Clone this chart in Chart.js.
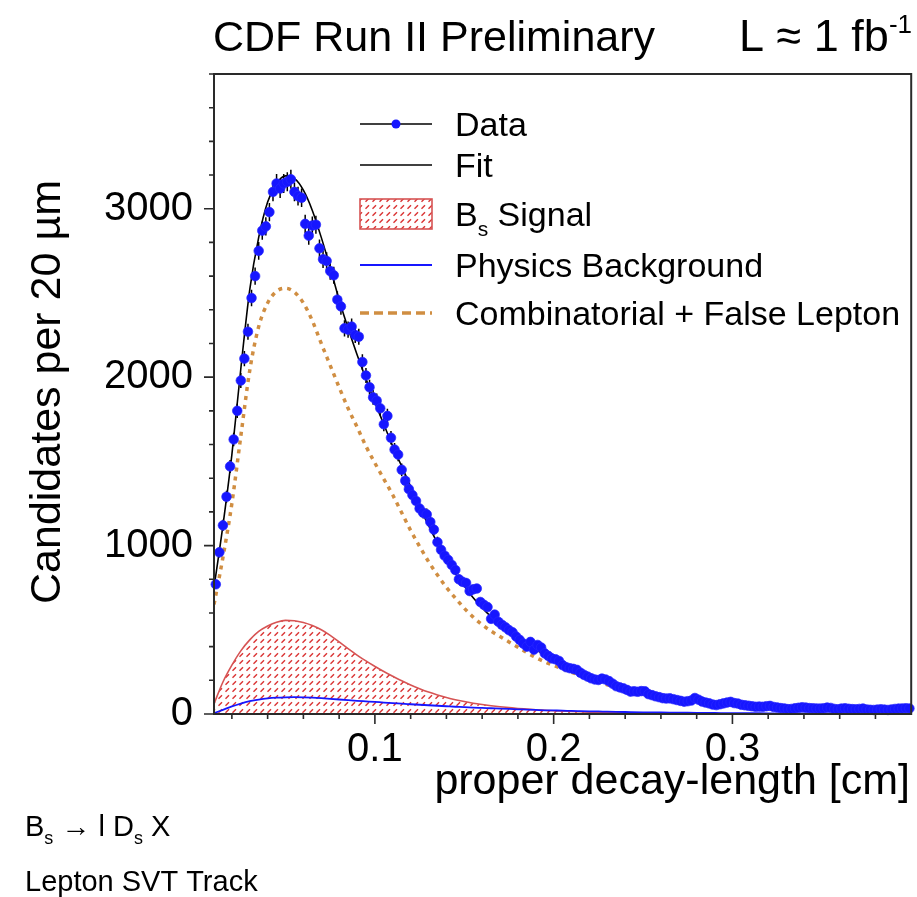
<!DOCTYPE html>
<html>
<head>
<meta charset="utf-8">
<title>CDF Run II Preliminary</title>
<script src="https://cdn.jsdelivr.net/npm/chart.js@4.4.1/dist/chart.umd.min.js"></script>
<style>
  html, body { margin: 0; padding: 0; background: #fff; }
  #wrap { width: 917px; height: 897px; }
</style>
</head>
<body>
<div id="wrap"><canvas id="chart" width="917" height="897"></canvas></div>
<script>
// histogram: 20 um bins starting at 0.01 cm
const binStart = 0.01;
const binWidth = 0.002;
const dataCounts = [
  770, 960, 1120, 1290, 1470, 1630, 1800, 1980, 2110, 2270,
  2470, 2600, 2750, 2870, 2895, 2980, 3100, 3150, 3120, 3150,
  3160, 3175, 3100, 3075, 3065, 2910, 2840, 2900, 2905, 2765,
  2700, 2690, 2630, 2605, 2460, 2420, 2290, 2282, 2300, 2250,
  2240, 2090, 2010, 1940, 1880, 1860, 1815, 1720, 1770, 1640,
  1570, 1540, 1450, 1385, 1335, 1300, 1265, 1220, 1195, 1185,
  1140, 1095, 1020, 975, 940, 915, 885, 855, 800, 785,
  778, 730, 740, 745, 665, 648, 635, 565, 590, 548,
  530, 515, 498, 485, 460, 440, 418, 400, 428, 382,
  410, 395, 360, 345, 330, 325, 315, 290, 278, 272,
  268, 262, 245, 232, 222, 212, 205, 202, 210, 205,
  195, 180, 165, 158, 152, 143, 133, 135, 132, 136,
  135, 118, 112, 105, 100, 94, 92, 93, 88, 83,
  78, 73, 76, 80, 95, 85, 74, 68, 63, 56,
  53, 58, 63, 68, 72, 65, 62, 55, 52, 49,
  46, 43, 44, 43, 46, 48, 42, 39, 35, 33,
  29, 30, 34, 37, 40, 38, 35, 34, 33, 32,
  34, 38, 36, 30, 28, 32, 34, 31, 29, 28,
  30, 32, 27, 25, 24, 26, 28, 26, 24, 27,
  30, 32, 33, 34, 33
];

// fit components sampled along x
const curveX = [
  0.010, 0.015, 0.020, 0.025, 0.030, 0.035, 0.040, 0.045, 0.050, 0.055,
  0.060, 0.065, 0.070, 0.075, 0.080, 0.085, 0.090, 0.095, 0.100, 0.105,
  0.110, 0.115, 0.120, 0.125, 0.130, 0.135, 0.140, 0.145, 0.150, 0.155,
  0.160, 0.165, 0.170, 0.175, 0.180, 0.185, 0.190, 0.195, 0.200, 0.205,
  0.210, 0.215, 0.220, 0.225, 0.230, 0.240, 0.250, 0.260, 0.270, 0.280,
  0.290, 0.300, 0.310, 0.320, 0.330, 0.340, 0.350, 0.360, 0.370, 0.380,
  0.390, 0.400
];
const fitY = [
  750, 1120, 1540, 2050, 2520, 2830, 3040, 3150, 3195, 3180,
  3110, 2990, 2830, 2650, 2460, 2290, 2135, 1990, 1850, 1720,
  1590, 1470, 1350, 1230, 1120, 1015, 920, 835, 760, 690,
  630, 578, 535, 495, 458, 420, 382, 352, 325, 300,
  276, 252, 230, 210, 192, 160, 135, 113, 97, 84,
  74, 66, 59, 53, 48, 44, 41, 38, 36, 34,
  32, 31
];
const signalY = [
  60, 190, 290, 375, 440, 490, 522, 545, 556, 554,
  543, 525, 500, 467, 428, 388, 350, 315, 283, 252,
  224, 197, 172, 150, 130, 113, 98, 85, 74, 64,
  56, 49, 43, 38, 33, 29, 25, 22, 19, 17,
  15, 13, 11, 10, 8, 6, 5, 4, 3, 2,
  2, 1, 1, 1, 1, 0, 0, 0, 0, 0,
  0, 0
];
const physBkgY = [
  5, 25, 45, 62, 76, 86, 93, 97, 99, 100,
  99, 97, 94, 90, 86, 82, 78, 75, 72, 68,
  65, 61, 58, 55, 52, 49, 46, 43, 41, 38,
  36, 34, 32, 30, 28, 26, 24, 22, 21, 20,
  18, 17, 16, 15, 14, 12, 10, 9, 8, 7,
  6, 5, 5, 4, 4, 3, 3, 2, 2, 2,
  1, 1
];
const combY = [
  650, 930, 1250, 1650, 2040, 2300, 2440, 2510, 2528, 2505,
  2440, 2335, 2200, 2070, 1940, 1815, 1705, 1590, 1490, 1395,
  1300, 1195, 1090, 995, 905, 825, 752, 688, 628, 575,
  530, 492, 460, 428, 397, 365, 335, 310, 288, 268,
  248, 228, 208, 190, 174, 148, 126, 106, 91, 79,
  70, 62, 56, 51, 46, 43, 40, 37, 35, 33,
  31, 30
];

const xTicks = [0.02, 0.04, 0.06, 0.08, 0.1, 0.12, 0.14, 0.16, 0.18, 0.2,
                0.22, 0.24, 0.26, 0.28, 0.3, 0.32, 0.34, 0.36, 0.38];
const xLabelled = [0.1, 0.2, 0.3];
const yTicks = [0, 200, 400, 600, 800, 1000, 1200, 1400, 1600, 1800, 2000,
                2200, 2400, 2600, 2800, 3000, 3200, 3400, 3600, 3800];
const yLabelled = [0, 1000, 2000, 3000];

const FONT = '"Liberation Sans", Arial, Helvetica, sans-serif';
const RED = 'rgb(214, 84, 84)';
const BLUE = 'rgb(22, 22, 255)';
const ORANGE = 'rgb(208, 142, 66)';

const canvas = document.getElementById('chart');
const ctx = canvas.getContext('2d');

function makeHatch() {
  const c = document.createElement('canvas');
  c.width = 7; c.height = 7;
  const g = c.getContext('2d');
  g.strokeStyle = 'rgb(218, 52, 52)';
  g.lineWidth = 1.5;
  g.beginPath();
  g.moveTo(1.5, 5.8);
  g.lineTo(5, 2.3);
  g.stroke();
  return ctx.createPattern(c, 'repeat');
}
const hatch = makeHatch();

const isLabelled = (list, v) => list.some(t => Math.abs(t - v) < 1e-9);

const toPoints = (xs, ys) => xs.map((x, i) => ({ x: x, y: ys[i] }));
const dataPoints = dataCounts.map((n, i) => ({ x: binStart + binWidth * (i + 0.5), y: n }));

// error bars under the data markers
const errorBars = {
  id: 'errorBars',
  beforeDatasetDraw(chart, args) {
    if (args.index !== 0) return;
    const c = chart.ctx, xs = chart.scales.x, ys = chart.scales.y;
    c.save();
    c.strokeStyle = '#000';
    c.lineWidth = 1.5;
    c.beginPath();
    dataPoints.forEach(p => {
      const e = Math.sqrt(p.y);
      const px = xs.getPixelForValue(p.x);
      c.moveTo(px, ys.getPixelForValue(p.y - e));
      c.lineTo(px, ys.getPixelForValue(p.y + e));
    });
    c.stroke();
    c.restore();
  }
};

function subText(c, parts, x, y, size) {
  // parts: [text, isSub]
  let cx = x;
  parts.forEach(([t, sub]) => {
    c.font = (sub ? Math.round(size * 0.62) : size) + 'px ' + FONT;
    c.fillText(t, cx, sub ? y + size * 0.28 : y);
    cx += c.measureText(t).width;
  });
}

const decor = {
  id: 'decor',
  afterDraw(chart) {
    const c = chart.ctx;
    const a = chart.chartArea;
    const xs = chart.scales.x, ys = chart.scales.y;
    c.save();

    // frame
    c.strokeStyle = '#2a2a2a';
    c.lineWidth = 2;
    c.strokeRect(a.left, a.top, a.right - a.left, a.bottom - a.top);

    // tick marks, outside
    c.lineWidth = 1.6;
    c.beginPath();
    xTicks.forEach(v => {
      const px = xs.getPixelForValue(v);
      const len = isLabelled(xLabelled, v) ? 10 : 5;
      c.moveTo(px, a.bottom);
      c.lineTo(px, a.bottom + len);
    });
    yTicks.forEach(v => {
      const py = ys.getPixelForValue(v);
      const len = isLabelled(yLabelled, v) ? 10 : 5;
      c.moveTo(a.left, py);
      c.lineTo(a.left - len, py);
    });
    c.stroke();

    c.fillStyle = '#000';
    c.textBaseline = 'alphabetic';

    // header
    c.textAlign = 'left';
    c.font = '43px ' + FONT;
    c.fillText('CDF Run II Preliminary', 213, 51);
    c.font = '26px ' + FONT;
    const supW = c.measureText('-1').width;
    c.textAlign = 'right';
    c.fillText('-1', 912, 33);
    c.font = '45px ' + FONT;
    c.fillText('L \u2248 1 fb', 912 - supW, 51);

    // axis titles
    c.textAlign = 'right';
    c.font = '43px ' + FONT;
    c.fillText('proper decay-length [cm]', 910, 794);
    c.save();
    c.translate(60, 392);
    c.rotate(-Math.PI / 2);
    c.textAlign = 'center';
    c.fillText('Candidates per 20 \u00b5m', 0, 0);
    c.restore();

    // channel notes
    c.textAlign = 'left';
    subText(c, [['B', false], ['s', true], [' \u2192 l D', false], ['s', true], [' X', false]], 25, 836, 29);
    c.font = '29px ' + FONT;
    c.fillText('Lepton SVT Track', 25, 891);

    // legend
    const lx0 = 360, lx1 = 432, tx = 455, fs = 34;
    const rowY = [124, 165, 214, 265, 313];
    const textY = y => y + 12;
    c.lineWidth = 1.6;
    c.strokeStyle = '#000';
    c.beginPath(); c.moveTo(lx0, rowY[0]); c.lineTo(lx1, rowY[0]); c.stroke();
    c.fillStyle = BLUE;
    c.beginPath(); c.arc(396, rowY[0], 4.5, 0, Math.PI * 2); c.fill();
    c.beginPath(); c.moveTo(lx0, rowY[1]); c.lineTo(lx1, rowY[1]); c.stroke();

    c.fillStyle = hatch;
    c.fillRect(lx0, rowY[2] - 15, lx1 - lx0, 30);
    c.strokeStyle = RED;
    c.lineWidth = 1.6;
    c.strokeRect(lx0, rowY[2] - 15, lx1 - lx0, 30);

    c.strokeStyle = BLUE;
    c.lineWidth = 1.8;
    c.beginPath(); c.moveTo(lx0, rowY[3]); c.lineTo(lx1, rowY[3]); c.stroke();

    c.strokeStyle = ORANGE;
    c.lineWidth = 3.5;
    c.setLineDash([9, 5]);
    c.beginPath(); c.moveTo(lx0, rowY[4]); c.lineTo(lx1, rowY[4]); c.stroke();
    c.setLineDash([]);

    c.fillStyle = '#000';
    c.font = fs + 'px ' + FONT;
    c.fillText('Data', tx, textY(rowY[0]));
    c.fillText('Fit', tx, textY(rowY[1]));
    subText(c, [['B', false], ['s', true], [' Signal', false]], tx, textY(rowY[2]), fs);
    c.font = fs + 'px ' + FONT;
    c.fillText('Physics Background', tx, textY(rowY[3]));
    c.fillText('Combinatorial + False Lepton', tx, textY(rowY[4]));

    c.restore();
  }
};

new Chart(ctx, {
  type: 'line',
  data: {
    datasets: [
      {
        label: 'Data',
        data: dataPoints,
        showLine: false,
        pointRadius: 4.8,
        pointBackgroundColor: BLUE,
        pointBorderColor: 'rgba(40, 40, 255, 0.7)',
        pointBorderWidth: 1,
        clip: 8
      },
      {
        label: 'Fit',
        data: toPoints(curveX, fitY),
        borderColor: '#000',
        borderWidth: 1.6,
        pointRadius: 0,
        cubicInterpolationMode: 'monotone'
      },
      {
        label: 'Physics Background',
        data: toPoints(curveX, physBkgY),
        borderColor: BLUE,
        borderWidth: 1.8,
        pointRadius: 0,
        cubicInterpolationMode: 'monotone'
      },
      {
        label: 'Combinatorial + False Lepton',
        data: toPoints(curveX, combY),
        borderColor: ORANGE,
        borderWidth: 3.5,
        borderDash: [4, 5],
        pointRadius: 0,
        cubicInterpolationMode: 'monotone'
      },
      {
        label: 'Bs Signal',
        data: toPoints(curveX, signalY),
        borderColor: RED,
        borderWidth: 1.6,
        backgroundColor: hatch,
        fill: 'origin',
        pointRadius: 0,
        cubicInterpolationMode: 'monotone'
      }
    ]
  },
  options: {
    responsive: false,
    animation: false,
    devicePixelRatio: 1,
    layout: { padding: { top: 74, right: 4, bottom: 103, left: 0 } },
    plugins: {
      legend: { display: false },
      tooltip: { enabled: false }
    },
    scales: {
      x: {
        type: 'linear',
        min: 0.01,
        max: 0.4,
        grid: { display: false, drawTicks: false },
        border: { display: false },
        afterBuildTicks: s => { s.ticks = xTicks.map(v => ({ value: v })); },
        afterFit: s => { s.height = 80; },
        ticks: {
          autoSkip: false,
          maxRotation: 0,
          padding: 12,
          color: '#000',
          font: { family: FONT, size: 40 },
          callback: v => isLabelled(xLabelled, v) ? v.toFixed(1) : ''
        }
      },
      y: {
        type: 'linear',
        min: 0,
        max: 3800,
        grid: { display: false, drawTicks: false },
        border: { display: false },
        afterBuildTicks: s => { s.ticks = yTicks.map(v => ({ value: v })); },
        afterFit: s => { s.width = 214; },
        ticks: {
          autoSkip: false,
          padding: 21,
          color: '#000',
          font: { family: FONT, size: 40 },
          callback: v => isLabelled(yLabelled, v) ? String(v) : ''
        }
      }
    }
  },
  plugins: [errorBars, decor]
});
</script>
</body>
</html>
